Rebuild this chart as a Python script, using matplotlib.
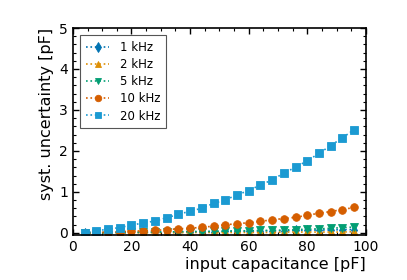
import matplotlib
matplotlib.use("Agg")
import matplotlib.pyplot as plt
from matplotlib.ticker import MultipleLocator

capacitance = [4, 8, 12, 16, 20, 24, 28, 32, 36, 40, 44, 48, 52, 56, 60, 64, 68, 72, 76, 80, 84, 88, 92, 96]
u_20k = [0.00, 0.05, 0.09, 0.13, 0.19, 0.24, 0.29, 0.37, 0.45, 0.53, 0.60, 0.72, 0.80, 0.93, 1.03, 1.17, 1.29, 1.46, 1.60, 1.76, 1.94, 2.13, 2.32, 2.52]
u_10k = [0.00, 0.01, 0.02, 0.03, 0.04, 0.05, 0.06, 0.08, 0.10, 0.11, 0.14, 0.16, 0.20, 0.22, 0.25, 0.28, 0.32, 0.35, 0.38, 0.43, 0.48, 0.52, 0.57, 0.62]
u_5k = [0.00, 0.00, 0.01, 0.01, 0.01, 0.02, 0.02, 0.02, 0.03, 0.03, 0.03, 0.04, 0.04, 0.05, 0.05, 0.06, 0.06, 0.07, 0.08, 0.09, 0.10, 0.11, 0.13, 0.14]
u_2k = [0.00, 0.00, 0.00, 0.00, 0.00, 0.00, 0.00, 0.00, 0.00, 0.01, 0.01, 0.01, 0.01, 0.01, 0.01, 0.01, 0.01, 0.02, 0.02, 0.02, 0.02, 0.02, 0.02, 0.03]
u_1k = [0.00, 0.00, 0.01, 0.01, 0.01, 0.01, 0.02, 0.02, 0.02, 0.03, 0.03, 0.03, 0.04, 0.04, 0.04, 0.05, 0.05, 0.05, 0.06, 0.06, 0.07, 0.07, 0.08, 0.08]

labels = ["1 kHz", "2 kHz", "5 kHz", "10 kHz", "20 kHz"]
series = [u_1k, u_2k, u_5k, u_10k, u_20k]
colors = ["#0173b2", "#de8f05", "#029e73", "#d55e00", "#1b9ad2"]
markers = ["d", "^", "v", "o", "s"]

fig = plt.figure(figsize=(4.07, 2.80), dpi=100)
ax = fig.add_axes([0.179, 0.161, 0.720, 0.739])

for y, lab, c, m in zip(series, labels, colors, markers):
    ax.plot(capacitance, y, linestyle=":", color=c, marker=m, markersize=5.5,
            linewidth=1.2, label=lab, markeredgewidth=0.6,
            markeredgecolor=c)

ax.set_xlim(0, 100)
ax.set_ylim(-0.05, 5)
ax.xaxis.set_major_locator(MultipleLocator(20))
ax.xaxis.set_minor_locator(MultipleLocator(5))
ax.yaxis.set_major_locator(MultipleLocator(1))
ax.yaxis.set_minor_locator(MultipleLocator(0.2))
ax.tick_params(which="both", direction="in", top=True, right=True, labelsize=10)
ax.tick_params(which="major", length=4, width=1)
ax.tick_params(which="minor", length=2.5, width=0.8)
for s in ax.spines.values():
    s.set_linewidth(1.2)

ax.set_xlabel("input capacitance [pF]", fontsize=11.5, loc="right", labelpad=2)
ax.set_ylabel("syst. uncertainty [pF]", fontsize=11.5, loc="top")

leg = ax.legend(loc="upper left", fontsize=8.5, fancybox=False, edgecolor="#555555",
                framealpha=1, borderpad=0.5, labelspacing=0.35, handlelength=2.0,
                handletextpad=0.9, borderaxespad=0.6, markerscale=0.85)
leg.get_frame().set_linewidth(0.8)

fig.savefig("out.png", dpi=100)
